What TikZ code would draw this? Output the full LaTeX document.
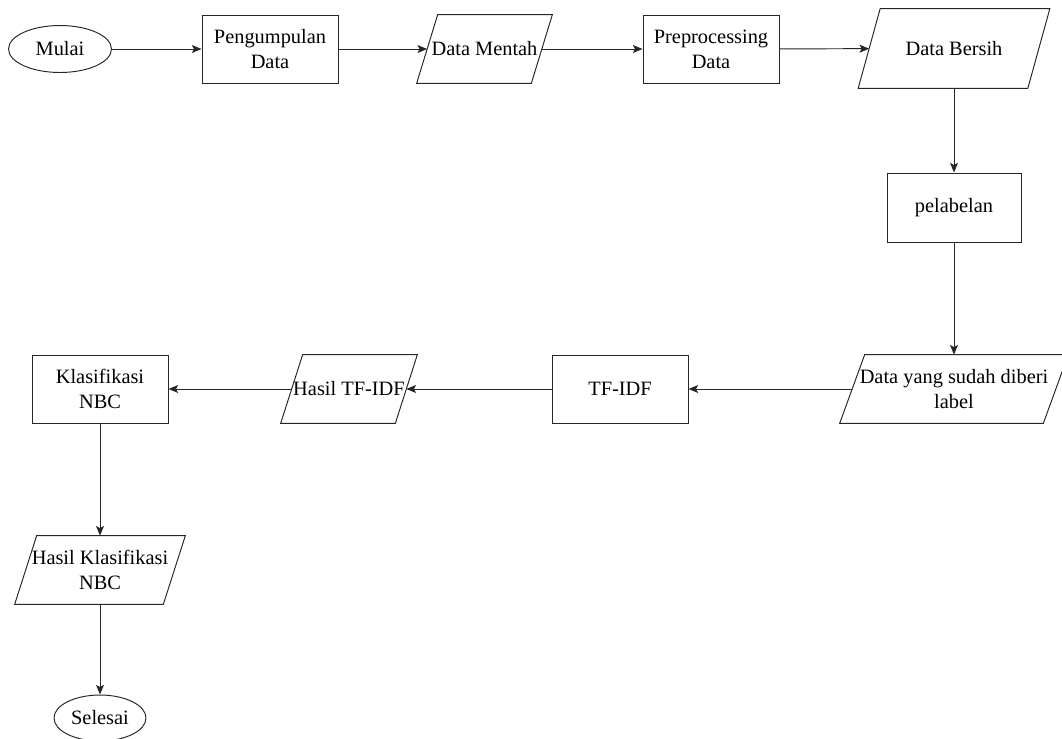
\documentclass[tikz,border=0pt]{standalone}
\usepackage{fontspec}
\setmainfont{Liberation Serif}
\usepackage{tikz}
\usetikzlibrary{arrows.meta}
\usetikzlibrary{shapes.geometric}

\begin{document}
\begin{tikzpicture}[x=0.02cm, y=-0.02cm, font=\fontsize{11.6}{14.2}\selectfont]
    \tikzstyle{block} = [draw=black!85, line width=0.55pt, rectangle, align=center, minimum width=2.72cm, minimum height=1.36cm, inner sep=0pt];
    \tikzstyle{io} = [rectangle, align=center, minimum height=1.36cm, inner sep=0pt,
        append after command={\pgfextra{\draw[draw=black!85, line width=0.55pt]
            ([xshift=#1]\tikzlastnode.north west) -- ([xshift=#1]\tikzlastnode.north east) --
            ([xshift=-#1]\tikzlastnode.south east) -- ([xshift=-#1]\tikzlastnode.south west) -- cycle;}}];
    \tikzstyle{term} = [draw=black!85, line width=0.55pt, ellipse, minimum width=2.06cm, minimum height=0.94cm, inner sep=0pt];
    \tikzstyle{line} = [draw=black!85, line width=0.55pt, -{Stealth[length=5.5pt, width=4.5pt, inset=1.2pt]}];
    \useasboundingbox (0,0) rectangle (1062,738);
    \node[term] (mulai) at (60,49) {Mulai};
    \node[block] (kumpul) at (270,49) {Pengumpulan\\Data};
    \node[io=0.21cm, minimum width=2.28cm] (mentah) at (484.5,49) {Data Mentah};
    \node[block] (prep) at (711,49) {Preprocessing\\Data};
    \node[io=0.22cm, minimum width=3.38cm, minimum height=1.58cm] (bersih) at (954,48.5) {Data Bersih};
    \node[block, minimum width=2.68cm, minimum height=1.38cm] (label) at (954,207.5) {pelabelan};
    \node[io=0.25cm, minimum width=4.06cm] (berlabel) at (954,389) {Data yang sudah diberi\\label};
    \node[block] (tfidf) at (620,389) {TF-IDF};
    \node[io=0.22cm, minimum width=2.28cm] (hasiltf) at (349,389) {Hasil TF-IDF};
    \node[block] (nbc) at (100,389) {Klasifikasi\\NBC};
    \node[io=0.22cm, minimum width=2.96cm] (hasilnbc) at (100,570) {Hasil Klasifikasi\\NBC};
    \node[term, minimum width=1.84cm, minimum height=0.92cm] (selesai) at (100,718) {Selesai};
    \tikzstyle{every path}=[line]
    \path (mulai) -- (kumpul);
    \path (kumpul) -- (mentah);
    \path (mentah) -- (prep);
    \path (prep) -- (bersih);
    \path (bersih) -- (label);
    \path (label) -- (berlabel);
    \path (berlabel) -- (tfidf);
    \path (tfidf) -- (hasiltf);
    \path (hasiltf) -- (nbc);
    \path (nbc) -- (hasilnbc);
    \path (hasilnbc) -- (selesai);
\end{tikzpicture}
\end{document}
